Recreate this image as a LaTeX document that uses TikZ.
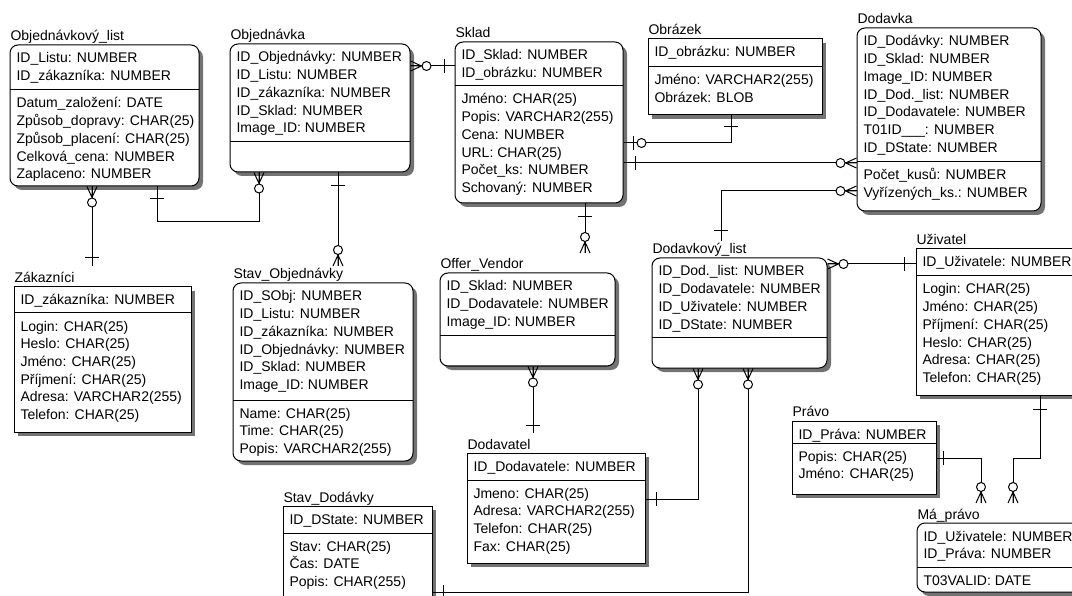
\documentclass[tikz,border=0pt]{standalone}
\usepackage{fontspec}
\setmainfont{Liberation Sans}
\usetikzlibrary{fit}
\tikzset{
 box/.style={draw, fill=white, inner sep=0pt},
 rbox/.style={box, rounded corners=8pt},
 shad/.style={fill=black!55, draw=none},
 row/.style={anchor=base west, inner sep=0pt, font=\fontsize{14}{17}\selectfont},
 pics/crowO/.style={code={\draw (11,0)--(0,5) (11,0)--(0,-5) (0,0)--(11,0); \draw[fill=white] (16,0) circle (4.5);}},
 pics/one/.style={code={\draw (#1,-7)--(#1,7);}},
 pics/oneO/.style={code={\draw (10,-7)--(10,7); \draw[fill=white] (18,0) circle (4.5);}},
}
% #1 name, #2 style, #3 x1, #4 y1, #5 x2, #6 y2, #7 ysep, #8 title
\newcommand\ent[8]{%
 \fill[#2, shad] (#3+4,#4+4) rectangle (#5+4,#6+4);
 \node[#2, fit={(#3,#4) (#5,#6)}] (#1) {};
 \draw (#3,#7) -- (#5,#7);
 \node[row] (#1-t) at (#3,#4-4) {#8};
}
% #1 prefix, #2 box x, #3 section top y, #4 list
\newcommand\rows[4]{\foreach \rw [count=\i from 0] in {#4} {\node[row] (#1\i) at (#2+6, #3+18+17.7*\i) {\rw};}}
\begin{document}
\begin{tikzpicture}[x=1pt,y=-1pt,line width=1pt]
\useasboundingbox (0,0) rectangle (1072,596);
\fill[white] (0,0) rectangle (1072,596);
\clip (0,0) rectangle (1072,596);

% Objednavkovy_list
\ent{objl}{rbox}{10}{45}{199}{186}{90}{Objednávkový\_list}
\rows{objlk}{10}{45}{ID\_Listu: NUMBER, ID\_zákazníka: NUMBER}
\rows{objla}{10}{90}{Datum\_založení: DATE, Způsob\_dopravy: CHAR(25), Způsob\_placení: CHAR(25), Celková\_cena: NUMBER, Zaplaceno: NUMBER}

% Objednavka
\ent{objn}{rbox}{230}{44}{410}{172}{142}{Objednávka}
\rows{objnk}{230}{44}{ID\_Objednávky: NUMBER, ID\_Listu: NUMBER, ID\_zákazníka: NUMBER, ID\_Sklad: NUMBER, Image\_ID: NUMBER}

% Sklad
\ent{sklad}{rbox}{455}{42}{623}{203}{86}{Sklad}
\rows{skladk}{455}{42}{ID\_Sklad: NUMBER, ID\_obrázku: NUMBER}
\rows{sklada}{455}{86}{Jméno: CHAR(25), Popis: VARCHAR2(255), Cena: NUMBER, URL: CHAR(25), Počet\_ks: NUMBER, Schovaný: NUMBER}

% Obrazek
\ent{obr}{box}{648}{39}{822}{115}{67}{Obrázek}
\rows{obrk}{648}{39}{ID\_obrázku: NUMBER}
\rows{obra}{648}{67}{Jméno: VARCHAR2(255), Obrázek: BLOB}

% Dodavka
\ent{dod}{rbox}{857}{28}{1041}{211}{162}{Dodavka}
\rows{dodk}{857}{28}{ID\_Dodávky: NUMBER, ID\_Sklad: NUMBER, Image\_ID: NUMBER, ID\_Dod.\_list: NUMBER, ID\_Dodavatele: NUMBER, T01ID\_\_\_: NUMBER, ID\_DState: NUMBER}
\rows{doda}{857}{162}{Počet\_kusů: NUMBER, Vyřízených\_ks.: NUMBER}

% Zakaznici
\ent{zak}{box}{14}{287}{191}{432}{313}{Zákazníci}
\rows{zakk}{14}{287}{ID\_zákazníka: NUMBER}
\rows{zaka}{14}{313}{Login: CHAR(25), Heslo: CHAR(25), Jméno: CHAR(25), Příjmení: CHAR(25), Adresa: VARCHAR2(255), Telefon: CHAR(25)}

% Stav_Objednavky
\ent{stobj}{rbox}{233}{283}{413}{461}{400}{Stav\_Objednávky}
\rows{stobjk}{233}{283}{ID\_SObj: NUMBER, ID\_Listu: NUMBER, ID\_zákazníka: NUMBER, ID\_Objednávky: NUMBER, ID\_Sklad: NUMBER, Image\_ID: NUMBER}
\rows{stobja}{233}{400}{Name: CHAR(25), Time: CHAR(25), Popis: VARCHAR2(255)}

% Offer_Vendor
\ent{offer}{rbox}{440}{273}{615}{366}{336}{Offer\_Vendor}
\rows{offerk}{440}{273}{ID\_Sklad: NUMBER, ID\_Dodavatele: NUMBER, Image\_ID: NUMBER}

% Dodavkovy_list
\ent{dlist}{rbox}{652}{258}{827}{368}{338}{Dodavkový\_list}
\rows{dlistk}{652}{258}{ID\_Dod.\_list: NUMBER, ID\_Dodavatele: NUMBER, ID\_Uživatele: NUMBER, ID\_DState: NUMBER}

% Uzivatel
\ent{uziv}{box}{916}{249}{1090}{395}{276}{Uživatel}
\rows{uzivk}{916}{249}{ID\_Uživatele: NUMBER}
\rows{uziva}{916}{276}{Login: CHAR(25), Jméno: CHAR(25), Příjmení: CHAR(25), Heslo: CHAR(25), Adresa: CHAR(25), Telefon: CHAR(25)}

% Pravo
\ent{pravo}{box}{792}{421}{936}{494}{443}{Právo}
\rows{pravok}{792}{421}{ID\_Práva: NUMBER}
\rows{pravoa}{792}{443}{Popis: CHAR(25), Jméno: CHAR(25)}

% Ma_pravo
\ent{mapr}{rbox}{917}{523}{1090}{592}{567}{Má\_právo}
\rows{maprk}{917}{523}{ID\_Uživatele: NUMBER, ID\_Práva: NUMBER}
\rows{mapra}{917}{567}{T03VALID: DATE}

% Dodavatel
\ent{dodtel}{box}{467}{453}{645}{563}{480}{Dodavatel}
\rows{dodtelk}{467}{453}{ID\_Dodavatele: NUMBER}
\rows{dodtela}{467}{480}{Jmeno: CHAR(25), Adresa: VARCHAR2(255), Telefon: CHAR(25), Fax: CHAR(25)}

% Stav_Dodavky
\ent{stdod}{box}{283}{506}{432}{620}{533}{Stav\_Dodávky}
\rows{stdodk}{283}{506}{ID\_DState: NUMBER}
\rows{stdoda}{283}{533}{Stav: CHAR(25), Čas: DATE, Popis: CHAR(255)}

% free ends above titles
\coordinate (zakc) at (92,266);
\coordinate (stobjc) at (338,266);
\coordinate (ofc) at (585,253);
\coordinate (dtc) at (533,433);
\coordinate (dlc) at (721,241);
\coordinate (mpc1) at (981,503);
\coordinate (mpc2) at (1013,503);

% C1 Objednavkovy_list - Zakaznici
\draw (objl.south -| 92,0) -- (zakc);
\pic[rotate=-90] at (objl.south -| 92,0) {crowO};
\pic[rotate=90] at (zakc) {one=8};
% C2 Objednavkovy_list - Objednavka
\draw (objl.south -| 157,0) -- (157,222) -- (259,222) -- (objn.south -| 259,0);
\pic[rotate=-90] at (objl.south -| 157,0) {one=12};
\pic[rotate=-90] at (objn.south -| 259,0) {crowO};
% C3 Objednavka - Stav_Objednavky
\draw (objn.south -| 338,0) -- (stobjc);
\pic[rotate=-90] at (objn.south -| 338,0) {one=13};
\pic[rotate=90] at (stobjc) {crowO};
% C4 Objednavka - Sklad
\draw (objn.east |- 0,66) -- (sklad.west |- 0,66);
\pic at (objn.east |- 0,66) {crowO};
\pic[rotate=180] at (sklad.west |- 0,66) {one=10};
% C5 Obrazek - Sklad
\draw (obr.south -| 731,0) -- (731,143) -- (sklad.east |- 0,143);
\pic[rotate=-90] at (obr.south -| 731,0) {one=11};
\pic at (sklad.east |- 0,143) {oneO};
% C6 Sklad - Dodavka
\draw (sklad.east |- 0,163) -- (dod.west |- 0,163);
\pic at (sklad.east |- 0,163) {one=12};
\pic[rotate=180] at (dod.west |- 0,163) {crowO};
% C7 Dodavka - Dodavkovy_list
\draw (dod.west |- 0,191) -- (721,191) -- (dlc);
\pic[rotate=180] at (dod.west |- 0,191) {crowO};
\pic[rotate=90] at (dlc) {one=10};
% C8 Sklad - Offer_Vendor
\draw (sklad.south -| 585,0) -- (ofc);
\pic[rotate=-90] at (sklad.south -| 585,0) {one=13};
\pic[rotate=90] at (ofc) {crowO};
% C9 Offer_Vendor - Dodavatel
\draw (offer.south -| 533,0) -- (dtc);
\pic[rotate=-90] at (offer.south -| 533,0) {crowO};
\pic[rotate=90] at (dtc) {one=8};
% C10 Dodavkovy_list - Dodavatel
\draw (dlist.south -| 698,0) -- (698,499) -- (dodtel.east |- 0,499);
\pic[rotate=-90] at (dlist.south -| 698,0) {crowO};
\pic at (dodtel.east |- 0,499) {one=11};
% C11 Dodavkovy_list - Stav_Dodavky
\draw (dlist.south -| 748,0) -- (748,592) -- (stdod.east |- 0,592);
\pic[rotate=-90] at (dlist.south -| 748,0) {crowO};
\pic at (stdod.east |- 0,592) {one=11};
% C12 Dodavkovy_list - Uzivatel
\draw (dlist.east |- 0,264) -- (uziv.west |- 0,264);
\pic at (dlist.east |- 0,264) {crowO};
\pic[rotate=180] at (uziv.west |- 0,264) {one=11};
% C13 Uzivatel - Ma_pravo
\draw (uziv.south -| 1040,0) -- (1040,458) -- (1013,458) -- (mpc2);
\pic[rotate=-90] at (uziv.south -| 1040,0) {one=14};
\pic[rotate=90] at (mpc2) {crowO};
% C14 Pravo - Ma_pravo
\draw (pravo.east |- 0,458) -- (981,458) -- (mpc1);
\pic at (pravo.east |- 0,458) {one=7};
\pic[rotate=90] at (mpc1) {crowO};
\end{tikzpicture}
\end{document}
